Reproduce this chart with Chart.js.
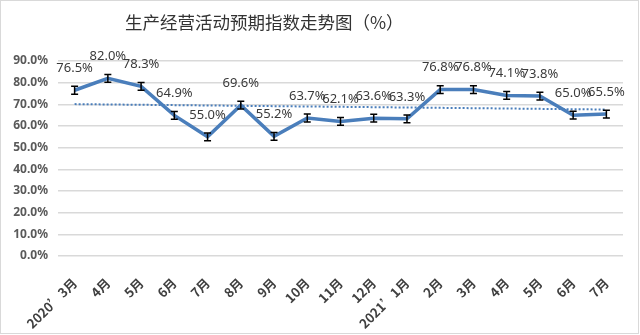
<!DOCTYPE html>
<html>
<head>
<meta charset="utf-8">
<script src="https://cdn.jsdelivr.net/npm/chart.js@4.4.1/dist/chart.umd.min.js"></script>
<style>
    html, body { margin: 0; padding: 0; background: #fff; }
    #wrap { position: relative; width: 639px; height: 334px; box-sizing: border-box; border: 1px solid #d9d9d9; }
    #trendChart { position: absolute; left: 0; top: 0; }
    #chartTitle {
        position: absolute; left: 124px; top: 12px;
        font-family: "Noto Sans CJK SC", "Noto Sans", sans-serif;
        font-size: 17.5px; color: #333; white-space: nowrap; line-height: 1;
    }
</style>
</head>
<body>
<div id="wrap">
    <canvas id="trendChart" width="640" height="335"></canvas>
    <div id="chartTitle">生产经营活动预期指数走势图（%）</div>
</div>
<script>
const months = ['2020’3月','4月','5月','6月','7月','8月','9月','10月','11月','12月','2021’1月','2月','3月','4月','5月','6月','7月'];
const expectIndex = [76.5, 82.0, 78.3, 64.9, 55.0, 69.6, 55.2, 63.7, 62.1, 63.6, 63.3, 76.8, 76.8, 74.1, 73.8, 65.0, 65.5];
const errorSize = [1.8, 1.8, 1.8, 1.8, 1.8, 1.8, 1.8, 1.8, 1.8, 1.8, 1.8, 1.8, 1.8, 1.8, 1.8, 1.8, 1.8];
// linear trend, only the two end values are kept; spanGaps joins them
const trendEnds = [70.1, null, null, null, null, null, null, null, null, null, null, null, null, null, null, null, 67.6];
const yTicks = { min: 0, max: 90, step: 10 };

const BLUE = '#4a7ebb';
const FONT = '"Noto Sans", "Noto Sans CJK SC", sans-serif';
const CJK_FONT = '"Noto Sans CJK SC", "Noto Sans", sans-serif';

// error bars + value labels on the main series
const markPlugin = {
    id: 'marks',
    afterDatasetsDraw(chart) {
        const ctx = chart.ctx;
        const x = chart.scales.x, y = chart.scales.y;
        ctx.save();
        ctx.strokeStyle = '#000';
        ctx.lineWidth = 1.5;
        expectIndex.forEach((v, i) => {
            const px = x.getPixelForValue(i);
            const top = y.getPixelForValue(v + errorSize[i]);
            const bot = y.getPixelForValue(v - errorSize[i]);
            ctx.beginPath();
            ctx.moveTo(px, top); ctx.lineTo(px, bot);
            ctx.moveTo(px - 3.5, top); ctx.lineTo(px + 3.5, top);
            ctx.moveTo(px - 3.5, bot); ctx.lineTo(px + 3.5, bot);
            ctx.stroke();
        });
        ctx.fillStyle = '#3a3a3a';
        ctx.font = '13px ' + FONT;
        ctx.textAlign = 'center';
        ctx.textBaseline = 'middle';
        expectIndex.forEach((v, i) => {
            const px = x.getPixelForValue(i);
            const py = y.getPixelForValue(v);
            ctx.fillText(v.toFixed(1) + '%', px, py - 22);
        });
        ctx.restore();
    }
};

new Chart(document.getElementById('trendChart'), {
    type: 'line',
    data: {
        labels: months,
        datasets: [{
            data: expectIndex,
            borderColor: BLUE,
            borderWidth: 3.5,
            pointRadius: 0,
            tension: 0
        }, {
            data: trendEnds,
            spanGaps: true,
            borderColor: BLUE,
            borderWidth: 2,
            borderDash: [2, 2],
            pointRadius: 0
        }]
    },
    options: {
        responsive: false,
        animation: false,
        layout: { padding: { top: 60, right: 18, left: 0, bottom: 0 } },
        plugins: { legend: { display: false }, title: { display: false }, tooltip: { enabled: false } },
        scales: {
            y: {
                min: yTicks.min,
                max: yTicks.max,
                ticks: {
                    stepSize: yTicks.step,
                    padding: 10,
                    color: '#595959',
                    font: { family: FONT, size: 12, weight: 'bold' },
                    callback: v => v.toFixed(1) + '%'
                },
                grid: { color: '#d9d9d9', lineWidth: 1.5, drawTicks: false },
                border: { display: false },
                afterFit(scale) { scale.width = 57; }
            },
            x: {
                offset: true,
                ticks: {
                    minRotation: 45,
                    maxRotation: 45,
                    autoSkip: false,
                    padding: 11,
                    color: '#404040',
                    font: { family: CJK_FONT, size: 13, weight: 'bold' }
                },
                grid: { display: false, offset: true },
                border: { display: false },
                afterFit(scale) { scale.height = 80; }
            }
        }
    },
    plugins: [markPlugin]
});
</script>
</body>
</html>
